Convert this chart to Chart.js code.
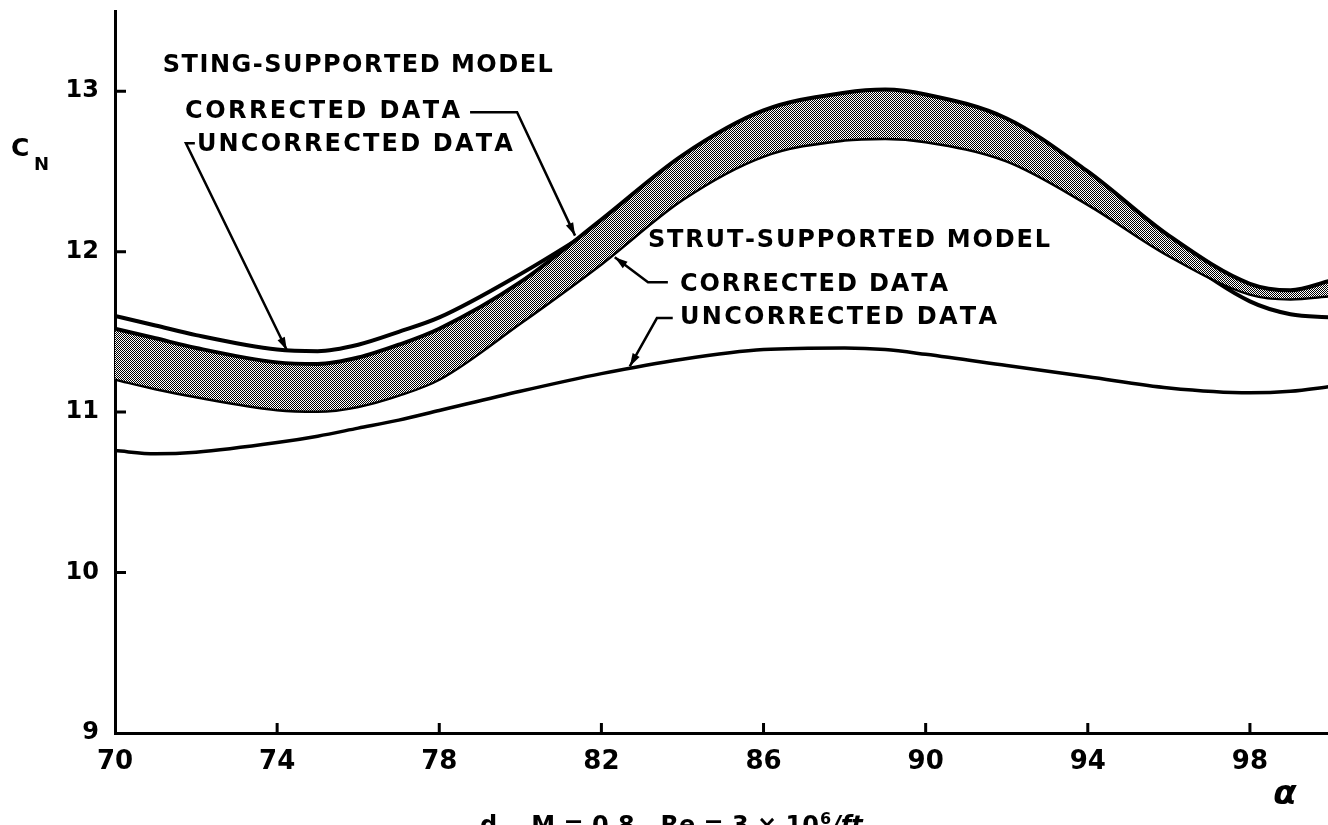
<!DOCTYPE html>
<html>
<head>
<meta charset="utf-8">
<title>CN vs alpha</title>
<script src="https://cdn.jsdelivr.net/npm/chart.js@4.4.1/dist/chart.umd.min.js"></script>
<style>
  html, body { margin: 0; padding: 0; background: #fff; overflow: hidden; }
  #wrap { width: 1332px; height: 825px; }
</style>
</head>
<body>
<div id="wrap"><canvas id="cnChart" width="1332" height="825"></canvas></div>
<script>
// angle of attack, deg
var alpha = [70, 71, 72, 74, 75, 76, 77, 78, 80, 82, 84, 86, 88, 89, 90, 92, 94, 96, 98, 99, 100];

// normal force coefficient
var stingCorrected   = [11.52, 11.46, 11.40, 11.31, 11.30, 11.34, 11.42, 11.52, 11.81, 12.20, 12.60, 12.88, 12.99, 13.01, 12.98, 12.83, 12.50, 12.10, 11.80, 11.76, 11.82];
var strutCorrected   = [11.21, 11.15, 11.10, 11.02, 11.01, 11.04, 11.11, 11.21, 11.56, 11.93, 12.33, 12.60, 12.70, 12.71, 12.69, 12.57, 12.30, 11.98, 11.74, 11.71, 11.73];
var stingUncorrected = [11.60, 11.54, 11.48, 11.39, 11.38, 11.42, 11.50, 11.59, 11.86, 12.17, 12.50, 12.78, 12.88, 12.89, 12.87, 12.70, 12.40, 12.02, 11.69, 11.61, 11.59];
var strutUncorrected = [10.76, 10.74, 10.75, 10.81, 10.85, 10.90, 10.95, 11.01, 11.13, 11.24, 11.33, 11.39, 11.40, 11.39, 11.36, 11.29, 11.22, 11.15, 11.12, 11.13, 11.16];

var xTicks = [70, 74, 78, 82, 86, 90, 94, 98];
var yTicks = [9, 10, 11, 12, 13];

var FONT = '"DejaVu Sans", "Liberation Sans", sans-serif';

function points(ys) {
  return alpha.map(function (a, i) { return { x: a, y: ys[i] }; });
}

// halftone fill for the band between the corrected curves
function halftone() {
  var c = document.createElement('canvas');
  c.width = 2; c.height = 2;
  var g = c.getContext('2d');
  g.fillStyle = '#fff';
  g.fillRect(0, 0, 2, 2);
  g.fillStyle = '#000';
  g.fillRect(0, 0, 1, 1);
  g.fillRect(1, 1, 1, 1);
  return g.createPattern(c, 'repeat');
}

// text labels and their leader lines, in alpha / CN units
var notes = [
  { text: 'STING-SUPPORTED MODEL', at: [71.18, 13.156], width: 390 },
  { text: 'CORRECTED DATA',        at: [71.73, 12.869], width: 275 },
  { text: 'UNCORRECTED DATA',      at: [72.02, 12.664], width: 316 },
  { text: 'STRUT-SUPPORTED MODEL', at: [83.15, 12.065], width: 402 },
  { text: 'CORRECTED DATA',        at: [83.94, 11.791], width: 268 },
  { text: 'UNCORRECTED DATA',      at: [83.94, 11.586], width: 317 }
];
var leaders = [
  [[71.97, 12.676], [71.75, 12.676], [74.24, 11.386]],
  [[78.76, 12.869], [79.92, 12.869], [81.35, 12.100]],
  [[83.64, 11.810], [83.15, 11.810], [82.33, 11.965]],
  [[83.76, 11.586], [83.37, 11.586], [82.70, 11.285]]
];

function spacedText(ctx, text, x, y, width) {
  var chars = text.split('');
  var w = chars.map(function (c) { return ctx.measureText(c).width; });
  var sum = w.reduce(function (a, b) { return a + b; }, 0);
  var gap = chars.length > 1 ? (width - sum) / (chars.length - 1) : 0;
  var cx = x;
  chars.forEach(function (c, i) { ctx.fillText(c, cx, y); cx += w[i] + gap; });
}

var decorations = {
  id: 'decorations',
  afterDatasetsDraw: function (chart) {
    var ctx = chart.ctx, xs = chart.scales.x, ys = chart.scales.y, area = chart.chartArea;
    ctx.save();
    ctx.strokeStyle = '#000';
    ctx.fillStyle = '#000';
    ctx.lineCap = 'butt';

    // inward tick marks
    ctx.lineWidth = 3;
    ctx.beginPath();
    yTicks.slice(1).forEach(function (v) {
      var py = ys.getPixelForValue(v);
      ctx.moveTo(area.left, py); ctx.lineTo(area.left + 11, py);
    });
    xTicks.slice(1).forEach(function (v) {
      var px = xs.getPixelForValue(v);
      ctx.moveTo(px, area.bottom); ctx.lineTo(px, area.bottom - 10);
    });
    ctx.stroke();

    // leaders with arrow tips
    ctx.lineWidth = 2.5;
    ctx.lineJoin = 'miter';
    leaders.forEach(function (path) {
      var p = path.map(function (d) { return [xs.getPixelForValue(d[0]), ys.getPixelForValue(d[1])]; });
      ctx.beginPath();
      ctx.moveTo(p[0][0], p[0][1]);
      for (var i = 1; i < p.length; i++) ctx.lineTo(p[i][0], p[i][1]);
      ctx.stroke();
      var a = p[p.length - 2], b = p[p.length - 1];
      var ang = Math.atan2(b[1] - a[1], b[0] - a[0]);
      ctx.save();
      ctx.translate(b[0], b[1]);
      ctx.rotate(ang);
      ctx.beginPath();
      ctx.moveTo(0, 0); ctx.lineTo(-13, -4); ctx.lineTo(-13, 4); ctx.closePath();
      ctx.fill();
      ctx.restore();
    });

    // labels
    ctx.font = 'bold 24px ' + FONT;
    ctx.textBaseline = 'middle';
    ctx.textAlign = 'left';
    notes.forEach(function (n) {
      spacedText(ctx, n.text, xs.getPixelForValue(n.at[0]), ys.getPixelForValue(n.at[1]), n.width);
    });

    // axis titles
    ctx.font = 'bold 25px ' + FONT;
    ctx.fillText('C', 11, 149);
    ctx.font = 'bold 18px ' + FONT;
    ctx.fillText('N', 34, 165);

    ctx.font = 'italic bold 34px ' + FONT;
    ctx.textAlign = 'center';
    ctx.fillText('\u03b1', 1285, 795);

    // case caption along the bottom edge
    ctx.font = 'bold 24px ' + FONT;
    ctx.textAlign = 'left';
    ctx.textBaseline = 'top';
    var cap = 'd.   M = 0.8,  Re = 3 \u00d7 10';
    ctx.fillText(cap, 480, 815);
    var cx = 480 + ctx.measureText(cap).width;
    ctx.font = 'bold 16px ' + FONT;
    ctx.fillText('6', cx + 1, 812);
    cx += ctx.measureText('6').width + 2;
    ctx.font = 'italic bold 24px ' + FONT;
    ctx.fillText('/ft', cx, 815);
    ctx.restore();
  }
};

var lineStyle = {
  fill: false,
  pointRadius: 0,
  borderColor: '#000',
  cubicInterpolationMode: 'monotone'
};

new Chart(document.getElementById('cnChart'), {
  type: 'line',
  data: {
    datasets: [
      Object.assign({}, lineStyle, { label: 'Sting, corrected', data: points(stingCorrected), borderWidth: 4, fill: '+1', backgroundColor: halftone() }),
      Object.assign({}, lineStyle, { label: 'Strut, corrected', data: points(strutCorrected), borderWidth: 5 }),
      Object.assign({}, lineStyle, { label: 'Sting, uncorrected', data: points(stingUncorrected), borderWidth: 4 }),
      Object.assign({}, lineStyle, { label: 'Strut, uncorrected', data: points(strutUncorrected), borderWidth: 3.5 })
    ]
  },
  options: {
    responsive: false,
    animation: false,
    events: [],
    layout: { padding: { top: 11, right: 1, left: 0, bottom: 0 } },
    plugins: { legend: { display: false }, tooltip: { enabled: false } },
    scales: {
      x: {
        type: 'linear',
        min: 70,
        max: 100,
        afterBuildTicks: function (s) { s.ticks = xTicks.map(function (v) { return { value: v }; }); },
        afterFit: function (s) { s.height = 92; s.paddingLeft = 0; s.paddingRight = 0; },
        grid: { display: false, drawTicks: false },
        border: { display: true, color: '#000', width: 3 },
        ticks: { color: '#000', padding: 14, maxRotation: 0, autoSkip: false, font: { family: FONT, size: 26, weight: 'bold' } }
      },
      y: {
        type: 'linear',
        min: 9,
        max: 13.5,
        afterBuildTicks: function (s) { s.ticks = yTicks.map(function (v) { return { value: v }; }); },
        afterFit: function (s) { s.width = 115; s.paddingTop = 0; s.paddingBottom = 0; },
        grid: { display: false, drawTicks: false },
        border: { display: true, color: '#000', width: 3 },
        ticks: { color: '#000', padding: 16, font: { family: FONT, size: 24, weight: 'bold' } }
      }
    }
  },
  plugins: [decorations]
});
</script>
</body>
</html>
